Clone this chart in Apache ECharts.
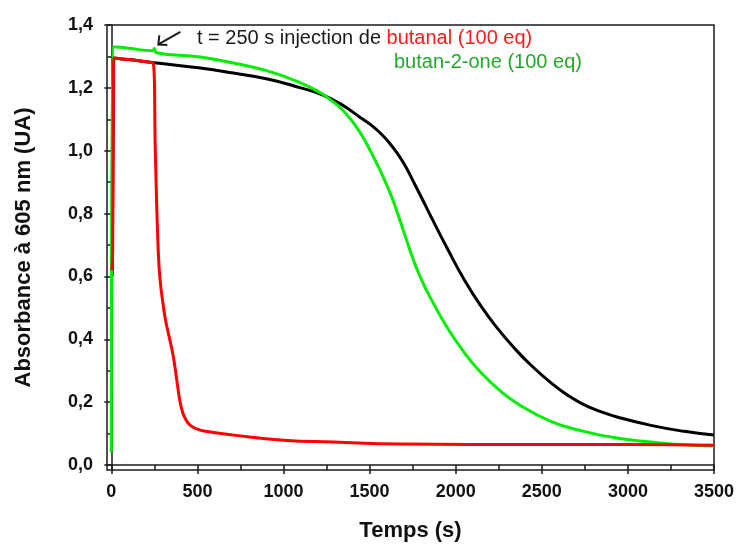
<!DOCTYPE html>
<html>
<head>
<meta charset="utf-8">
<script src="https://cdn.jsdelivr.net/npm/echarts@6/dist/echarts.min.js"></script>
<style>
  html, body { margin: 0; padding: 0; background: #fff; }
  #main { width: 739px; height: 547px; }
</style>
</head>
<body>
<div id="main"></div>
<script>
// ticks
const xTicks = [0, 500, 1000, 1500, 2000, 2500, 3000, 3500];
const xMinorTicks = [250, 750, 1250, 1750, 2250, 2750, 3250];
const yTicks = [0, 0.2, 0.4, 0.6, 0.8, 1.0, 1.2, 1.4];
const yMinorTicks = [0.1, 0.3, 0.5, 0.7, 0.9, 1.1, 1.3];

// [temps (s), absorbance]
const noirData = [
  [5, 0.6], [12, 1.18], [15, 1.295], [25, 1.294], [100, 1.29], [250, 1.28],
  [517, 1.263], [709, 1.247], [907, 1.228], [1099, 1.2], [1215, 1.18],
  [1331, 1.149], [1448, 1.105], [1506, 1.083], [1564, 1.055], [1610, 1.028],
  [1663, 0.99], [1709, 0.95], [1756, 0.9], [1805, 0.847], [1855, 0.792],
  [1953, 0.687], [2047, 0.592], [2145, 0.507], [2244, 0.434], [2337, 0.374],
  [2436, 0.318], [2552, 0.262], [2650, 0.222], [2744, 0.192], [2842, 0.17],
  [2942, 0.152], [3134, 0.126], [3326, 0.107], [3500, 0.095]
];
const butanalData = [
  [3, 0.62], [8, 0.685], [12, 1.2], [15, 1.295], [25, 1.294], [100, 1.29],
  [230, 1.281], [244, 1.28], [256, 0.99], [273, 0.676], [285, 0.58],
  [300, 0.515], [314, 0.464], [335, 0.41], [355, 0.36], [370, 0.31],
  [384, 0.255], [398, 0.205], [413, 0.17], [435, 0.142], [459, 0.126],
  [500, 0.114], [547, 0.107], [709, 0.095], [1000, 0.079], [1291, 0.073],
  [1680, 0.067], [2500, 0.065], [3000, 0.065], [3500, 0.063]
];
const butanoneData = [
  [0, 0.04], [8, 1.33], [30, 1.33], [100, 1.326], [240, 1.318], [250, 1.325],
  [262, 1.312], [517, 1.298], [709, 1.279], [907, 1.254], [1099, 1.216],
  [1215, 1.184], [1273, 1.162], [1331, 1.136], [1390, 1.1], [1430, 1.07],
  [1465, 1.04], [1506, 0.998], [1564, 0.934], [1622, 0.862], [1663, 0.8],
  [1709, 0.725], [1756, 0.65], [1805, 0.585], [1855, 0.53], [1953, 0.435],
  [2047, 0.36], [2145, 0.295], [2250, 0.24], [2360, 0.195], [2552, 0.139],
  [2744, 0.107], [2942, 0.085], [3134, 0.073], [3326, 0.064], [3500, 0.06]
];

const chart = echarts.init(document.getElementById("main"));
const FONT = "'Liberation Sans', Arial, sans-serif";
const AXIS_COLOR = "#1a1a1a";
const X_MIN = -25, X_MAX = 3500;
const Y_MIN = -0.016, Y_MAX = 1.4;

const lineSeries = (data, color) => ({
  type: "line",
  data,
  showSymbol: false,
  smooth: 0.5,
  animation: false,
  lineStyle: { color, width: 3 },
  itemStyle: { color },
});

chart.setOption({
  backgroundColor: "#fff",
  animation: false,
  grid: {
    left: 107, right: 25, top: 25, bottom: 75,
    show: true, borderColor: AXIS_COLOR, borderWidth: 1.5,
  },
  xAxis: [
    {
      type: "value", position: "bottom", min: X_MIN, max: X_MAX,
      name: "Temps (s)", nameLocation: "middle", nameGap: 50,
      nameTextStyle: { fontFamily: FONT, fontWeight: "bold", fontSize: 22, color: "#111" },
      axisLine: { show: true, lineStyle: { color: AXIS_COLOR, width: 1.5 } },
      axisTick: { show: true, customValues: xTicks, length: 9, lineStyle: { color: AXIS_COLOR, width: 1.5 } },
      axisLabel: {
        customValues: xTicks, margin: 13,
        fontFamily: FONT, fontWeight: "bold", fontSize: 18, color: "#111",
        formatter: (v) => String(v),
      },
      splitLine: { show: false },
    },
    {
      type: "value", position: "bottom", min: X_MIN, max: X_MAX,
      axisLine: { show: false },
      axisTick: { show: true, customValues: xMinorTicks, length: 5, lineStyle: { color: AXIS_COLOR, width: 1.5 } },
      axisLabel: { show: false },
      splitLine: { show: false },
    },
  ],
  yAxis: [
    {
      type: "value", position: "left", min: Y_MIN, max: Y_MAX,
      name: "Absorbance à 605 nm (UA)", nameLocation: "middle", nameGap: 72, nameRotate: 90,
      nameTextStyle: { fontFamily: FONT, fontWeight: "bold", fontSize: 22, color: "#111" },
      axisLine: { show: true, lineStyle: { color: AXIS_COLOR, width: 1.5 } },
      axisTick: { show: true, customValues: yTicks, length: 7, lineStyle: { color: AXIS_COLOR, width: 1.5 } },
      axisLabel: {
        customValues: yTicks, margin: 14,
        fontFamily: FONT, fontWeight: "bold", fontSize: 18, color: "#111",
        formatter: (v) => v.toFixed(1).replace(".", ","),
      },
      splitLine: { show: false },
    },
    {
      type: "value", position: "left", min: Y_MIN, max: Y_MAX,
      axisLine: { show: false },
      axisTick: { show: true, customValues: yMinorTicks, length: 4, lineStyle: { color: AXIS_COLOR, width: 1.5 } },
      axisLabel: { show: false },
      splitLine: { show: false },
    },
  ],
  series: [
    lineSeries(noirData, "#000000"),
    lineSeries(butanoneData, "#00ee00"),
    lineSeries(butanalData, "#ff0000"),
  ],
});

// annotation: arrow + texts, placed from data coordinates
const tip = chart.convertToPixel({ xAxisIndex: 0, yAxisIndex: 0 }, [273, 1.338]);
const tail = chart.convertToPixel({ xAxisIndex: 0, yAxisIndex: 0 }, [401, 1.378]);
chart.setOption({
  graphic: [
    {
      type: "line",
      shape: { x1: tail[0], y1: tail[1], x2: tip[0], y2: tip[1] },
      style: { stroke: "#1a1a1a", lineWidth: 2 },
    },
    {
      type: "polyline",
      shape: { points: [[tip[0] + 1, tip[1] - 9], [tip[0], tip[1]], [tip[0] + 9, tip[1] + 0.5]] },
      style: { stroke: "#1a1a1a", lineWidth: 2, fill: null },
    },
    {
      type: "text", left: 197, top: 28,
      style: {
        text: "{k|t = 250 s injection de }{r|butanal (100 eq)}",
        rich: {
          k: { fontFamily: FONT, fontSize: 20, fill: "#1a1a1a" },
          r: { fontFamily: FONT, fontSize: 20, fill: "#ff1a1a" },
        },
      },
    },
    {
      type: "text", left: 394, top: 52,
      style: { text: "butan-2-one (100 eq)", fontFamily: FONT, fontSize: 20, fill: "#22a82a" },
    },
  ],
});
</script>
</body>
</html>
